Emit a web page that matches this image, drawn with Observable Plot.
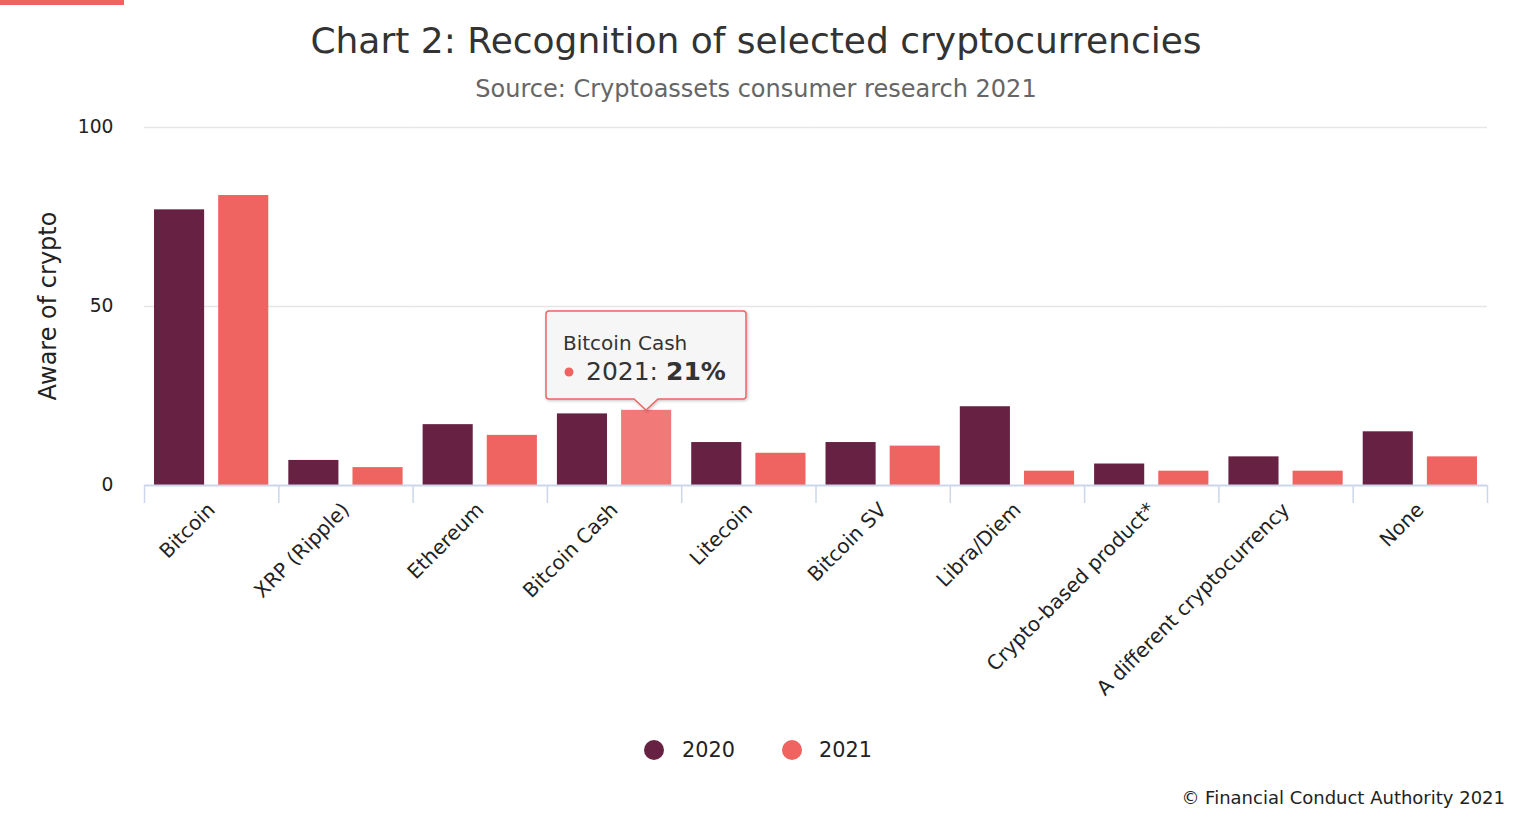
<!DOCTYPE html>
<html><head><meta charset="utf-8">
<script src="https://cdn.jsdelivr.net/npm/d3@7"></script>
<script src="https://cdn.jsdelivr.net/npm/@observablehq/plot@0.6"></script>
<style>
body{margin:0;background:#fff;font-family:"DejaVu Sans",Verdana,sans-serif;}
#wrap{position:relative;width:1524px;height:834px;overflow:hidden;background:#fff;}
.abs{position:absolute;white-space:nowrap;}
#topbar{left:0;top:0;width:124px;height:5px;background:#ef6461;}
#title{left:0;width:1512px;text-align:center;top:22.5px;font-size:36px;line-height:36px;color:#333;}
#subtitle{left:0;width:1512px;text-align:center;top:76.7px;font-size:24px;line-height:24px;color:#666;}
#chart{left:0;top:100px;}
#ylabel{left:48px;top:306px;font-size:24px;line-height:24px;color:#222;transform:translate(-50%,-50%) rotate(-90deg);}
.leg{top:740px;font-size:20.8px;line-height:20.8px;color:#222;}
.dot{width:20px;height:20px;border-radius:50%;top:740px;}
#credit{right:19px;top:788.8px;font-size:18px;line-height:18px;color:#222;}
</style></head><body><div id="wrap">
<div id="topbar" class="abs"></div>
<div id="title" class="abs">Chart 2: Recognition of selected cryptocurrencies</div>
<div id="subtitle" class="abs">Source: Cryptoassets consumer research 2021</div>
<div id="chart" class="abs"></div>
<div id="ylabel" class="abs"></div>
<div id="credit" class="abs">© Financial Conduct Authority 2021</div>
</div>
<script>
const categories = ["Bitcoin","XRP (Ripple)","Ethereum","Bitcoin Cash","Litecoin","Bitcoin SV","Libra/Diem","Crypto-based product*","A different cryptocurrency","None"];
const years = ["2020","2021"];
const values2020 = [77,7,17,20,12,12,22,6,8,15];
const values2021 = [81,5,14,21,9,11,4,4,4,8];
const yTicks = [0,50,100];
const yLabel = "Aware of crypto";
const seriesColors = {"2020":"#672243","2021":"#ef6461"};
const hoverColor = "#f17a78";
const highlight = {category:"Bitcoin Cash", year:"2021"};

const rows = categories.flatMap((c,i)=>[
  {category:c, year:"2020", value:values2020[i]},
  {category:c, year:"2021", value:values2021[i]}
]);

const W=1524, H=600, ML=144, MR=37, MT=27, MB=215;
const SVG_LEFT=0, SVG_TOP=100;
const bw = (W-ML-MR)/categories.length;
const font = '"DejaVu Sans", Verdana, sans-serif';

const chart = Plot.plot({
  width:W, height:H, marginLeft:ML, marginRight:MR, marginTop:MT, marginBottom:MB,
  style:{fontFamily:font, fontSize:"18.7px", color:"#222", background:"transparent", overflow:"visible"},
  fx:{domain:categories, padding:0, round:false, label:null, axis:null},
  x:{domain:years, paddingInner:0.219, paddingOuter:0.156, round:false, axis:null},
  y:{domain:[0,100], label:null},
  color:{type:"identity"},
  marks:[
    Plot.ruleY(yTicks.filter(d=>d>0), {stroke:"#e6e6e6", strokeWidth:1.3}),
    Plot.axisY({ticks:yTicks, tickSize:0, tickPadding:31, fontSize:"18.7px", fill:"#222", label:null}),
    Plot.barY(rows, {fx:"category", x:"year", y:"value",
      fill: d => (d.category===highlight.category && d.year===highlight.year) ? hoverColor : seriesColors[d.year]}),
    Plot.ruleY([0], {stroke:"#ccd6eb", strokeWidth:2}),
    Plot.axisFx({anchor:"bottom", tickSize:0, tickRotate:-45, tickPadding:21, fontSize:"20px", fill:"#222", label:null}),
    Plot.axisFx({anchor:"bottom", tickSize:18, text:null, dx:-bw/2, stroke:"#ccd6eb", strokeWidth:1.5, label:null}),
    Plot.axisFx({anchor:"bottom", ticks:[categories[categories.length-1]], tickSize:18, text:null, dx:bw/2, stroke:"#ccd6eb", strokeWidth:1.5, label:null})
  ]
});
document.getElementById("chart").appendChild(chart);
document.getElementById("ylabel").textContent = yLabel;

// legend
const wrap = d3.select("#wrap");
const legPos = [{y:"2020", cx:654, tx:682},{y:"2021", cx:792, tx:819}];
legPos.forEach(p=>{
  wrap.append("div").attr("class","abs dot").style("left",(p.cx-10)+"px").style("background",seriesColors[p.y]);
  wrap.append("div").attr("class","abs leg").style("left",p.tx+"px").text(p.y);
});

// tooltip positioned with chart scales
const fxS = chart.scale("fx"), xS = chart.scale("x"), yS = chart.scale("y");
const hv = rows.find(r=>r.category===highlight.category && r.year===highlight.year);
const px = SVG_LEFT + fxS.apply(hv.category) + (xS.apply(hv.year) - xS.range[0]) + xS.bandwidth/2;
const py = SVG_TOP + yS.apply(hv.value);
const tip = wrap.append("svg").attr("class","abs")
  .attr("width",230).attr("height",120)
  .style("left",(px-110)+"px").style("top",(py-104)+"px").style("overflow","visible");
const defs = tip.append("defs");
const f = defs.append("filter").attr("id","sh").attr("x","-20%").attr("y","-20%").attr("width","150%").attr("height","150%");
f.append("feDropShadow").attr("dx",1).attr("dy",1).attr("stdDeviation",1.5).attr("flood-color","#000").attr("flood-opacity",0.25);
tip.append("path")
  .attr("d","M13,5 H207 A3,3 0 0 1 210,8 V90 A3,3 0 0 1 207,93 H122 L110,104 L98,93 H13 A3,3 0 0 1 10,90 V8 A3,3 0 0 1 13,5 Z")
  .attr("fill","rgba(247,247,247,0.95)").attr("stroke",seriesColors["2021"]).attr("stroke-width",1.5).attr("filter","url(#sh)");
tip.append("text").attr("x",27).attr("y",44).attr("font-family",font).attr("font-size",20).attr("fill","#333").text(hv.category);
tip.append("circle").attr("cx",33).attr("cy",66).attr("r",4.5).attr("fill",seriesColors[hv.year]);
const t2 = tip.append("text").attr("x",50).attr("y",74).attr("font-family",font).attr("font-size",25).attr("fill","#333");
t2.append("tspan").text(hv.year + ": ");
t2.append("tspan").attr("font-weight","bold").text(hv.value + "%");
</script>
</body></html>
